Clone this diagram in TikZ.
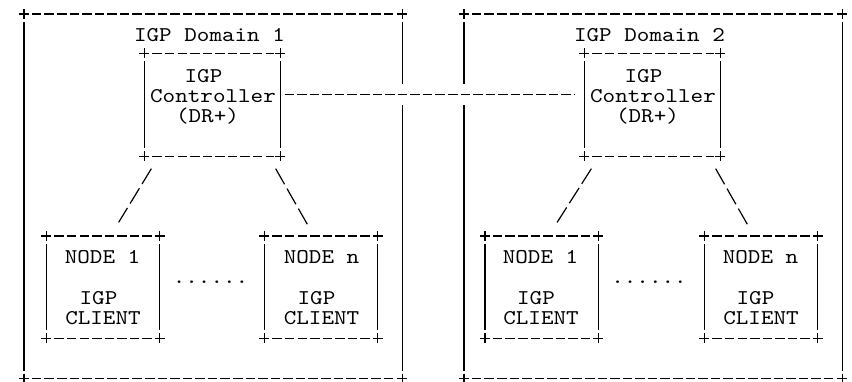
\documentclass[tikz,border=0pt]{standalone}
\usepackage{fontspec}
\usetikzlibrary{calc}

\newfontfamily\asciifont{lmmono10-regular.otf}[FakeStretch=1.14]

\tikzset{
    txt/.style={font=\asciifont\fontsize{21}{20}\selectfont, inner sep=0pt, anchor=base},
    frame/.style={draw=none, inner sep=0pt},
    hyphens/.style={dash pattern=on 9.5pt off 3.07pt},
    slashes/.style={dash pattern=on 18pt off 5pt},
}

% box drawn like "+----+" and "|"
\newcommand{\asciiframe}[1]{%
    \draw [hyphens] ($(#1.north west)+(8, 0)$) -- ($(#1.north east)+(-6, 0)$);
    \draw [hyphens] ($(#1.south west)+(8, 0)$) -- ($(#1.south east)+(-6, 0)$);
    \draw ($(#1.north west)+(0, 8)$) -- ($(#1.south west)+(0, -8)$);
    \draw ($(#1.north east)+(0, 8)$) -- ($(#1.south east)+(0, -8)$);
    \foreach \corner in {north west, north east, south west, south east} {
        \draw (#1.\corner) ++(-5, 0) -- ++(10, 0) (#1.\corner) ++(0, -5) -- ++(0, 10);
    }
}

\begin{document}
\begin{tikzpicture}[x=1pt, y=-1pt, line width=1.2pt]

    \useasboundingbox (0, 0) rectangle (852, 381);

    %% IGP Domain 1

    % Domain
    \node [frame, minimum width=377, minimum height=363.5] (dom1) at (213, 196.25) {};
    \node [txt] (dom1lbl) at (209.5, 41.5) {IGP Domain 1};

    % Controller
    \node [frame, minimum width=134.5, minimum height=101.5] (ctlA) at (212.25, 104.75) {};
    \node [txt] (ctlAi) at (203.5, 82.5) {IGP};
    \node [txt] (ctlAc) at (213, 102) {Controller};
    \node [txt] (ctlAd) at (207.5, 122) {(DR+)};

    % Clients
    \node [frame, minimum width=112, minimum height=101] (nodeA1) at (103, 287) {};
    \node [txt] (nodeA1n) at (102.5, 263.5) {NODE 1};
    \node [txt] (nodeA1i) at (98.5, 304) {IGP};
    \node [txt] (nodeA1c) at (103, 324) {CLIENT};

    \node [frame, minimum width=112, minimum height=101] (nodeAn) at (321, 287) {};
    \node [txt] (nodeAnn) at (321.5, 263.5) {NODE n};
    \node [txt] (nodeAni) at (316.5, 304) {IGP};
    \node [txt] (nodeAnc) at (321.5, 324) {CLIENT};

    \node [txt] (dotsA) at (210.5, 283.5) {......};

    %% IGP Domain 2

    % Domain
    \node [frame, minimum width=377, minimum height=363.5] (dom2) at (653, 196.25) {};
    \node [txt] (dom2lbl) at (649.5, 41.5) {IGP Domain 2};

    % Controller
    \node [frame, minimum width=134.5, minimum height=101.5] (ctlB) at (652.25, 104.75) {};
    \node [txt] (ctlBi) at (643.5, 82.5) {IGP};
    \node [txt] (ctlBc) at (653, 102) {Controller};
    \node [txt] (ctlBd) at (647.5, 122) {(DR+)};

    % Clients
    \node [frame, minimum width=112, minimum height=101] (nodeB1) at (541.5, 287) {};
    \node [txt] (nodeB1n) at (540.5, 263.5) {NODE 1};
    \node [txt] (nodeB1i) at (536, 304) {IGP};
    \node [txt] (nodeB1c) at (541, 324) {CLIENT};

    \node [frame, minimum width=112, minimum height=101] (nodeBn) at (761, 287) {};
    \node [txt] (nodeBnn) at (760.5, 263.5) {NODE n};
    \node [txt] (nodeBni) at (755.5, 304) {IGP};
    \node [txt] (nodeBnc) at (761, 324) {CLIENT};

    \node [txt] (dotsB) at (649, 283.5) {......};

    %% Frames and links

    \asciiframe{dom1}
    \asciiframe{dom2}

    % Controller to controller, cutting through both domain borders
    \draw [hyphens, shorten <=4.5pt, shorten >=9pt, preaction={draw=white, solid, line width=21pt}]
        ($(ctlA.north east)!0.4!(ctlA.south east)$) -- ($(ctlB.north west)!0.4!(ctlB.south west)$);

    \foreach \fr in {ctlA, nodeA1, nodeAn, ctlB, nodeB1, nodeBn} {
        \asciiframe{\fr}
    }

    % Controller to clients
    \foreach \dom in {A, B} {
        \draw [slashes] ($(ctl\dom.south west)+(7, 12.5)$) -- ($(node\dom1.north east)+(-41, -13.5)$);
        \draw [slashes] ($(ctl\dom.south east)+(-4.5, 12.5)$) -- ($(node\dom n.north west)+(43, -11.5)$);
    }

\end{tikzpicture}
\end{document}
